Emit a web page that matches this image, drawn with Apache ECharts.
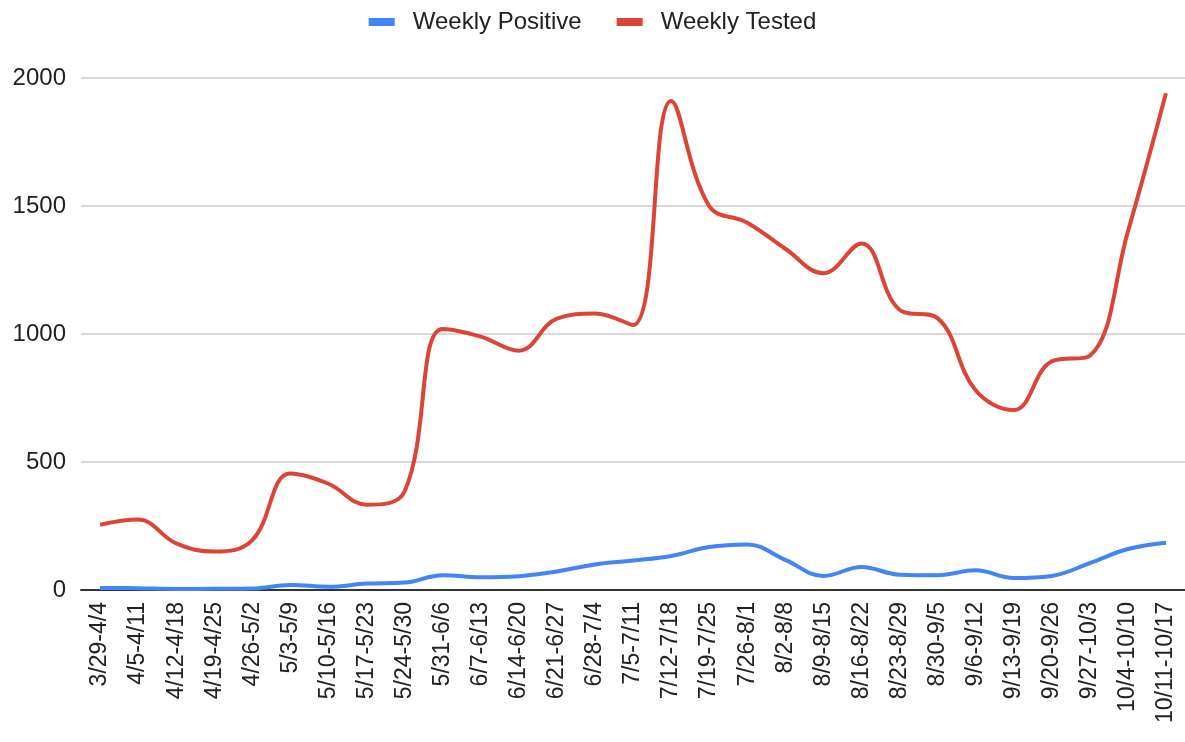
<!DOCTYPE html>
<html>
<head>
<meta charset="utf-8">
<script src="https://cdn.jsdelivr.net/npm/echarts@6/dist/echarts.min.js"></script>
<style>
  html, body { margin: 0; padding: 0; background: #fff; }
  #chart { width: 1185px; height: 742px; }
</style>
</head>
<body>
<div id="chart"></div>
<script>
const categories = ["3/29-4/4","4/5-4/11","4/12-4/18","4/19-4/25","4/26-5/2","5/3-5/9","5/10-5/16","5/17-5/23","5/24-5/30","5/31-6/6","6/7-6/13","6/14-6/20","6/21-6/27","6/28-7/4","7/5-7/11","7/12-7/18","7/19-7/25","7/26-8/1","8/2-8/8","8/9-8/15","8/16-8/22","8/23-8/29","8/30-9/5","9/6-9/12","9/13-9/19","9/20-9/26","9/27-10/3","10/4-10/10","10/11-10/17"];
const weeklyPositive = [8, 7, 4, 5, 6, 20, 13, 25, 29, 58, 50, 54, 72, 100, 115, 133, 168, 178, 118, 55, 90, 60, 58, 77, 47, 55, 105, 160, 185];
const weeklyTested = [255, 275, 182, 150, 195, 455, 415, 333, 385, 1020, 990, 935, 1060, 1080, 1035, 1910, 1500, 1435, 1333, 1237, 1354, 1095, 1062, 780, 703, 893, 915, 1400, 1940];
const yTicks = [0, 500, 1000, 1500, 2000];

const chart = echarts.init(document.getElementById('chart'));
const font = 'Arial, "Liberation Sans", sans-serif';
chart.setOption({
  animation: false,
  legend: {
    top: 5,
    left: 'center',
    icon: 'rect',
    itemWidth: 26,
    itemHeight: 8,
    itemGap: 35,
    textStyle: { fontFamily: font, fontSize: 24, color: '#222', padding: [0, 0, 0, 13] },
    data: ['Weekly Positive', 'Weekly Tested']
  },
  grid: { left: 81, right: 0, top: 78, bottom: 152, containLabel: false },
  xAxis: {
    type: 'category',
    data: categories,
    boundaryGap: true,
    axisLine: { lineStyle: { color: '#333', width: 2 } },
    axisTick: { show: false },
    axisLabel: { rotate: 90, interval: 0, margin: 12, fontFamily: font, fontSize: 23, color: '#222' }
  },
  yAxis: {
    type: 'value',
    min: yTicks[0],
    max: yTicks[yTicks.length - 1],
    interval: yTicks[1] - yTicks[0],
    axisLine: { show: false },
    axisTick: { show: false },
    splitLine: { lineStyle: { color: '#cccccc', width: 1.5 } },
    axisLabel: { margin: 15, fontFamily: font, fontSize: 24, color: '#222', formatter: function (v) { return String(v); } }
  },
  series: [
    {
      name: 'Weekly Positive',
      type: 'line',
      data: weeklyPositive,
      smooth: 0.4,
      showSymbol: false,
      symbol: 'none',
      itemStyle: { color: '#4285F4' },
      lineStyle: { color: '#4285F4', width: 4 },
      z: 3
    },
    {
      name: 'Weekly Tested',
      type: 'line',
      data: weeklyTested,
      smooth: 0.4,
      showSymbol: false,
      symbol: 'none',
      itemStyle: { color: '#DB4437' },
      lineStyle: { color: '#DB4437', width: 4 },
      z: 2
    }
  ]
});
</script>
</body>
</html>
